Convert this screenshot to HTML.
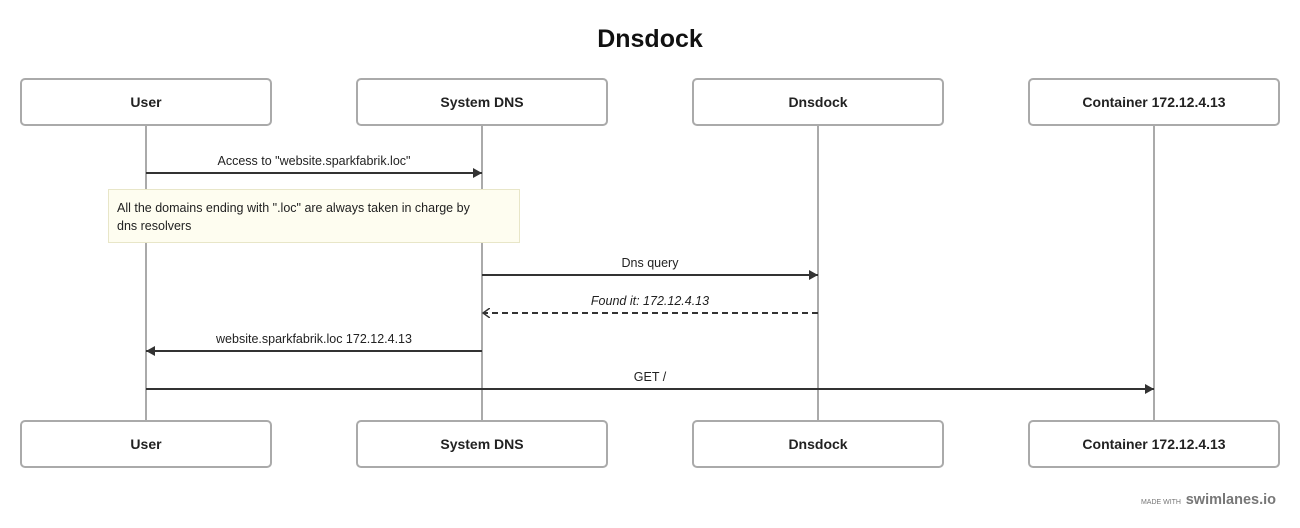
<!DOCTYPE html>
<html><head><meta charset="utf-8"><style>
html,body{margin:0;padding:0;background:#fff;}
svg{display:block;font-family:"Liberation Sans",sans-serif;}
</style></head><body>
<svg width="1300" height="528" viewBox="0 0 1300 528" xmlns="http://www.w3.org/2000/svg">
<defs>
<marker id="a" markerWidth="10" markerHeight="10" refX="9" refY="5" orient="auto" markerUnits="userSpaceOnUse"><path d="M0,0 L9,5 L0,10 z" fill="#333"/></marker>
<marker id="o" markerWidth="10" markerHeight="10" refX="7" refY="5" orient="auto" markerUnits="userSpaceOnUse"><path d="M0,0 L7,5 L0,10" fill="none" stroke="#333" stroke-width="1.5"/></marker>
</defs>
<text x="650" y="47" text-anchor="middle" font-size="25" font-weight="bold" fill="#111">Dnsdock</text>
<g stroke="#aaa" stroke-width="2">
<line x1="146" y1="125" x2="146" y2="421"/>
<line x1="482" y1="125" x2="482" y2="421"/>
<line x1="818" y1="125" x2="818" y2="421"/>
<line x1="1154" y1="125" x2="1154" y2="421"/>
</g>
<g fill="#fff" stroke="#aaa" stroke-width="2">
<rect x="21" y="79" width="250" height="46" rx="4"/>
<rect x="357" y="79" width="250" height="46" rx="4"/>
<rect x="693" y="79" width="250" height="46" rx="4"/>
<rect x="1029" y="79" width="250" height="46" rx="4"/>
<rect x="21" y="421" width="250" height="46" rx="4"/>
<rect x="357" y="421" width="250" height="46" rx="4"/>
<rect x="693" y="421" width="250" height="46" rx="4"/>
<rect x="1029" y="421" width="250" height="46" rx="4"/>
</g>
<g font-size="14" font-weight="bold" fill="#222" text-anchor="middle">
<text x="146" y="107">User</text><text x="482" y="107">System DNS</text><text x="818" y="107">Dnsdock</text><text x="1154" y="107">Container 172.12.4.13</text>
<text x="146" y="449">User</text><text x="482" y="449">System DNS</text><text x="818" y="449">Dnsdock</text><text x="1154" y="449">Container 172.12.4.13</text>
</g>
<g stroke="#333" stroke-width="2" fill="none">
<line x1="146" y1="173" x2="482" y2="173" marker-end="url(#a)"/>
<line x1="482" y1="275" x2="818" y2="275" marker-end="url(#a)"/>
<line x1="818" y1="313" x2="483" y2="313" stroke-dasharray="6,4" marker-end="url(#o)"/>
<line x1="482" y1="351" x2="146" y2="351" marker-end="url(#a)"/>
<line x1="146" y1="389" x2="1154" y2="389" marker-end="url(#a)"/>
</g>
<g font-size="12.5" fill="#222" text-anchor="middle">
<text x="314" y="165">Access to "website.sparkfabrik.loc"</text>
<text x="650" y="267">Dns query</text>
<text x="650" y="305" font-style="italic">Found it: 172.12.4.13</text>
<text x="314" y="343">website.sparkfabrik.loc 172.12.4.13</text>
<text x="650" y="381">GET /</text>
</g>
<rect x="108.5" y="189.5" width="411" height="53" fill="#fefdf0" stroke="#e8e6c8"/>
<g font-size="12.5" fill="#222">
<text x="117" y="212">All the domains ending with ".loc" are always taken in charge by</text>
<text x="117" y="230">dns resolvers</text>
</g>
<text x="1181" y="504" font-size="7" fill="#777" text-anchor="end">MADE WITH</text>
<text x="1276" y="504" font-size="14.5" font-weight="bold" fill="#777" text-anchor="end">swimlanes.io</text>
</svg>
</body></html>
